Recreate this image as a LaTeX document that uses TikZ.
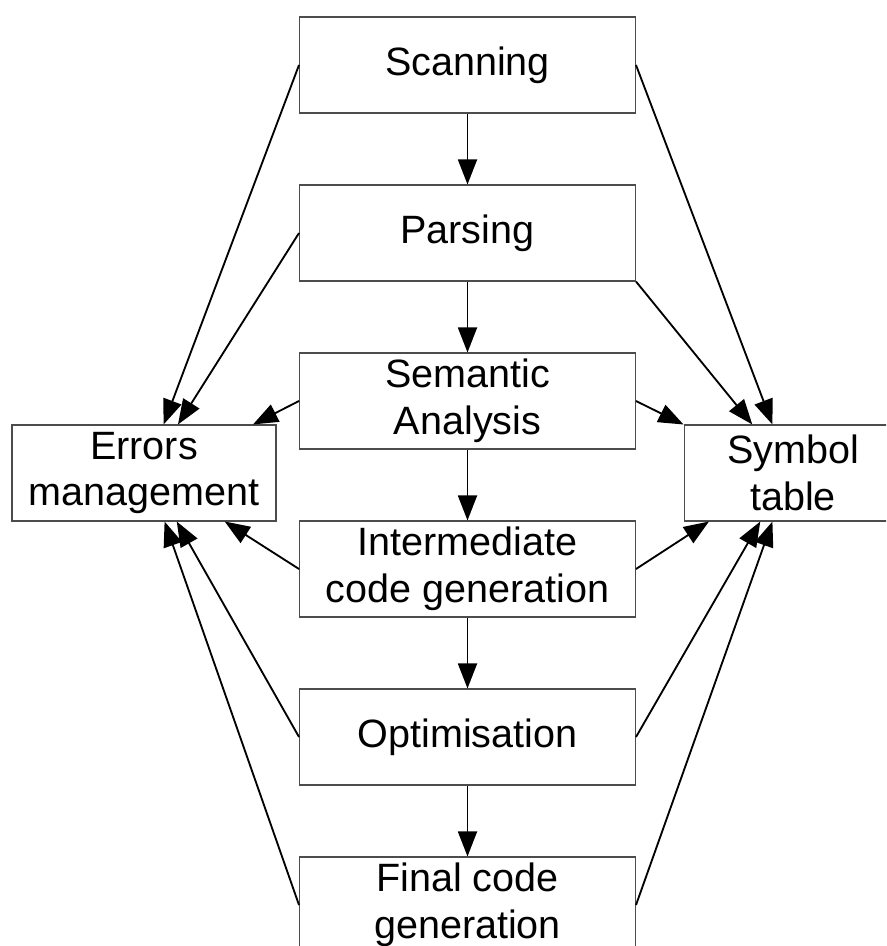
\documentclass[tikz,border=0pt]{standalone}
\usepackage{fontspec}
\setmainfont{Liberation Sans}
\usetikzlibrary{arrows.meta}
\tikzset{
  stage/.style={draw=black!70,line width=0.6pt,minimum width=6.72cm,minimum height=1.92cm,inner sep=0pt,align=center,font=\fontsize{22.5}{26.7}\selectfont},
  side/.style={stage,minimum width=5.28cm},
  fl/.style={line width=1.05pt,-{Triangle[length=0.5cm,width=0.38cm]}}
}
\begin{document}
\begin{tikzpicture}[x=0.02cm,y=-0.02cm]
\useasboundingbox (0,0) rectangle (886,946);
\clip (0,0) rectangle (886,946);
\node[stage] (scan) at (467.5,65) {Scanning};
\node[stage] (parse) at (467.5,233) {Parsing};
\node[stage] (sem) at (467.5,401) {Semantic\\Analysis};
\node[stage] (inter) at (467.5,569) {Intermediate\\code generation};
\node[stage] (opt) at (467.5,737) {Optimisation};
\node[stage] (final) at (467.5,905) {Final code\\generation};
\node[side] (err) at (144,473) {Errors\\management};
\node[side,minimum width=4.36cm] (sym) at (793,473) {Symbol\\table};
\draw[fl] (scan) -- (parse);
\draw[fl] (parse) -- (sem);
\draw[fl] (sem) -- (inter);
\draw[fl] (inter) -- (opt);
\draw[fl] (opt) -- (final);
\draw[fl] (scan.west) -- (err.68.4);
\draw[fl] (parse.west) -- (err.55.5);
\draw[fl] (sem.west) -- (err.24.4);
\draw[fl] (inter.west) -- (err.-31);
\draw[fl] (opt.west) -- (err.-56.3);
\draw[fl] (final.west) -- (err.-67.4);
\draw[fl] (scan.east) -- (sym.113.6);
\draw[fl] (parse.south east) -- (sym.130.5);
\draw[fl] (sem.east) -- (sym.north west);
\draw[fl] (inter.east) -- (sym.210.3);
\draw[fl] (opt.east) -- (sym.236.3);
\draw[fl] (final.east) -- (sym.247.4);
\end{tikzpicture}
\end{document}
